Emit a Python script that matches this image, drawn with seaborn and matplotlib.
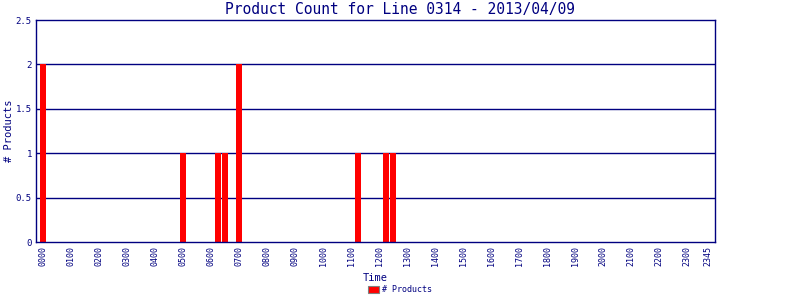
import matplotlib
matplotlib.use("Agg")
import matplotlib.pyplot as plt
import seaborn as sns
import pandas as pd

# 15-minute time slots for the day
slots = [f"{h:02d}{m:02d}" for h in range(24) for m in (0, 15, 30, 45)]
# non-zero product counts by slot
nonzero = {"0000": 2, "0500": 1, "0615": 1, "0630": 1, "0700": 2,
           "1115": 1, "1215": 1, "1230": 1}
counts = [nonzero.get(s, 0) for s in slots]
tick_labels = [f"{h:02d}00" for h in range(24)] + ["2345"]

NAVY = "#000080"
RED = "#ff0000"

sns.set_style("white")
plt.rcParams["font.family"] = ["DejaVu Sans Mono", "DejaVu Sans"]

df = pd.DataFrame({"Time": slots, "# Products": counts})

fig = plt.figure(figsize=(8, 3), dpi=100)
ax = fig.add_axes([0.045, 0.193, 0.849, 0.74])
sns.barplot(data=df, x="Time", y="# Products", order=slots, color=RED,
            saturation=1, width=0.82, ax=ax, label="# Products",
            linewidth=0, edgecolor=RED)

ax.set_xlim(-1, 96)
ax.set_ylim(0, 2.5)
ax.set_yticks([0, 0.5, 1, 1.5, 2, 2.5])
ax.set_yticklabels(["0", "0.5", "1", "1.5", "2", "2.5"])
tick_pos = [slots.index(t) for t in tick_labels]
ax.set_xticks(tick_pos)
ax.set_xticklabels(tick_labels, rotation=90)
ax.tick_params(axis="x", length=0, colors=NAVY, labelsize=6, pad=3)
ax.tick_params(axis="y", length=0, colors=NAVY, labelsize=6.5, pad=3)

for y in [0.5, 1, 1.5, 2]:
    ax.axhline(y, color=NAVY, lw=1, zorder=0)
for sp in ax.spines.values():
    sp.set_color(NAVY)
    sp.set_linewidth(1)
    sp.set_visible(True)

ax.set_xlabel("Time", color=NAVY, fontsize=7.5, labelpad=5)
ax.set_ylabel("# Products", color=NAVY, fontsize=7.5)
ax.yaxis.set_label_coords(-0.033, 0.5)
fig.text(0.5, 0.968, "Product Count for Line 0314 - 2013/04/09", color=NAVY,
         fontsize=10.5, ha="center", va="center")

leg = ax.legend(loc="lower center", bbox_to_anchor=(0.5, 0.0),
                bbox_transform=fig.transFigure, frameon=False, fontsize=6,
                handlelength=1.3, handleheight=0.9, handletextpad=0.4,
                borderpad=0.2)
for t in leg.get_texts():
    t.set_color(NAVY)
for h in leg.legend_handles:
    h.set_edgecolor("#808080")
    h.set_linewidth(0.8)

fig.savefig("out.png", dpi=100)
